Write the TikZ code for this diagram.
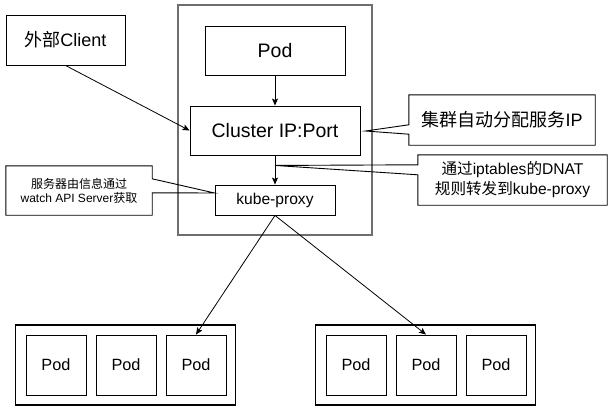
\documentclass[tikz,border=0pt]{standalone}
\usepackage{fontspec}
\setmainfont{Liberation Sans}
\newfontfamily\cjk{Noto Sans CJK SC}
\usetikzlibrary{arrows.meta,calc}
\begin{document}
\begin{tikzpicture}[x=1pt,y=-1pt,
  box/.style={draw=black,line width=0.9pt,inner sep=0pt,minimum width=#1},
  txt/.style={inner sep=0pt,align=center},
  arr/.style={draw=black,line width=0.8pt,-{Stealth[length=7pt,width=6pt,inset=1.5pt]}},
  co/.style={draw=black,line width=0.9pt,line join=miter},
  fsA/.style={font=\fontsize{19.5}{23}\selectfont},
  fsB/.style={font=\fontsize{18}{22}\selectfont},
  fsC/.style={font=\fontsize{15.6}{20}\selectfont},
  fsD/.style={font=\fontsize{16.3}{19}\selectfont},
  fsE/.style={font=\fontsize{12}{14}\selectfont}]
\useasboundingbox (0,0) rectangle (612,412);
\fill[white] (0,0) rectangle (612,412);
% outer service box
\node[draw={rgb,255:red,110;green,110;blue,110},line width=1.6pt,minimum width=194pt,minimum height=230pt,inner sep=0pt] (svc) at (275,120) {};
% main nodes
\node[box=119pt,minimum height=50pt,fsB] (client) at (65.5,40) {{\cjk 外部}Client};
\node[box=140pt,minimum height=49pt,fsA] (podtop) at (275,50.5) {Pod};
\node[box=170pt,minimum height=49pt,fsA] (cip) at (275,130.5) {Cluster IP:Port};
\node[box=120pt,minimum height=30pt,fsC] (kp) at (275,200) {kube-proxy};
% bottom groups
\node[box=220pt,minimum height=80pt,line width=1.2pt] (gl) at (125.5,365) {};
\node[box=220pt,minimum height=80pt,line width=1.2pt] (gr) at (425.5,365) {};
\node[box=60pt,minimum height=60pt,fsD] (l1) at (56,365) {Pod};
\node[box=60pt,minimum height=60pt,fsD] (l2) at (126,365) {Pod};
\node[box=60pt,minimum height=60pt,fsD] (l3) at (196,365) {Pod};
\node[box=60pt,minimum height=60pt,fsD] (r1) at (356,365) {Pod};
\node[box=60pt,minimum height=60pt,fsD] (r2) at (426,365) {Pod};
\node[box=60pt,minimum height=60pt,fsD] (r3) at (496,365) {Pod};
% callout texts
\node[txt,minimum width=186pt,minimum height=50pt,fsB] (c1) at (502,120) {{\cjk 集群自动分配服务}IP};
\node[txt,minimum width=189pt,minimum height=50pt,fsC] (c2) at (512.5,180) {{\cjk 通过}iptables{\cjk 的}DNAT\\{\cjk 规则转发到}kube-proxy};
\node[txt,minimum width=146pt,minimum height=49pt,fsE] (c3) at (79,190.5) {{\cjk 服务器由信息通过}\\watch API Server{\cjk 获取}};
% callout outlines
\coordinate (t1) at ($(cip.east)+(5,0.5)$);
\draw[co] (c1.north west) -- (c1.north east) -- (c1.south east) -- (c1.south west)
  -- ($(c1.south west)+(0,-11)$) -- (t1) -- ($(c1.north west)+(0,30)$) -- cycle;
\coordinate (t2) at ($(cip.south)+(0,10)$);
\draw[co] (c2.north west) -- (c2.north east) -- (c2.south east) -- (c2.south west)
  -- ($(c2.north west)+(0,20)$) -- (t2) -- ($(c2.north west)+(0,10)$) -- cycle;
\coordinate (t3) at ($(kp.west)+(0,-7)$);
\draw[co] (c3.north west) -- (c3.north east) -- ($(c3.north east)+(0,13)$) -- (t3)
  -- ($(c3.north east)+(0,27)$) -- (c3.south east) -- (c3.south west) -- cycle;
% connectors
\draw[arr] (podtop) -- (cip);
\draw[arr] (cip) -- (kp);
\draw[arr] (client.south) -- (cip.west);
\draw[arr] (kp.south) -- (l3.north);
\draw[arr] (kp.south) -- (r2.north);
\end{tikzpicture}
\end{document}
